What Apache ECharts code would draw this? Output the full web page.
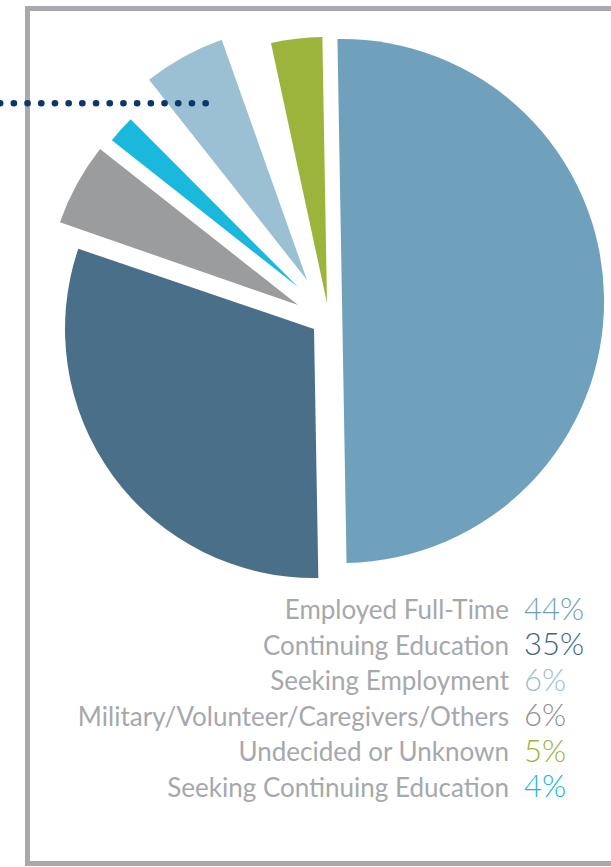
<!DOCTYPE html>
<html>
<head>
<meta charset="utf-8">
<script src="https://cdn.jsdelivr.net/npm/echarts@6/dist/echarts.min.js"></script>
<style>
html,body{margin:0;padding:0;background:#ffffff;}
#chart{width:611px;height:867px;}
</style>
</head>
<body>
<div id="chart"></div>
<script>
// ---- data (legend order) ----
const categories = [
  'Employed Full-Time',
  'Continuing Education',
  'Seeking Employment',
  'Military/Volunteer/Caregivers/Others',
  'Undecided or Unknown',
  'Seeking Continuing Education'
];
const percentLabels = ['44%', '35%', '6%', '6%', '5%', '4%'];
// share of the circle each slice covers in the picture (%)
const sliceShares = [50.0, 30.5, 5.2, 5.3, 3.1, 1.9];

// ---- styles / layout ----
const sliceColors = ['#6fa1bc', '#4a7089', '#9bc0d3', '#9b9c9e', '#9cb43c', '#1ab8dd'];
const labelColors = ['#6fa1bc', '#3f6784', '#9bc0d3', '#8e9093', '#9ab33a', '#1ab5dc'];
const clockwiseOrder = [0, 1, 3, 5, 2, 4];          // drawing order from 12 o'clock
const blankAfter = {1: 0.1, 5: 1.85, 2: 2.05};      // white space after a slice (% of circle)
const sliceGeom = {
  0: {center: [342, 301], radius: 262},
  1: {center: [314, 329], radius: 249},
  3: {center: [298, 305], radius: 252},
  5: {center: [298, 287], radius: 237},
  2: {center: [307, 280], radius: 255},
  4: {center: [327, 303], radius: 266}
};

const chart = echarts.init(document.getElementById('chart'), null, {renderer: 'svg'});

// shared pie data (slices + blank spacers)
const pieItems = [];
clockwiseOrder.forEach(k => {
  pieItems.push({name: categories[k], value: sliceShares[k], idx: k});
  if (blankAfter[k]) pieItems.push({name: 'blank' + k, value: blankAfter[k], idx: -1});
});

const series = clockwiseOrder.map(k => ({
  type: 'pie',
  name: categories[k],
  center: sliceGeom[k].center,
  radius: [0, sliceGeom[k].radius],
  startAngle: 91,
  clockwise: true,
  silent: true,
  animation: false,
  label: {show: false},
  labelLine: {show: false},
  emphasis: {disabled: true},
  itemStyle: {borderWidth: 0},
  data: pieItems.map(d => ({
    name: d.name,
    value: d.value,
    itemStyle: {color: d.idx === k ? sliceColors[k] : 'rgba(0,0,0,0)', borderWidth: 0}
  }))
}));

const FONT = 'Lato, "Open Sans", sans-serif';
const baseY = 619, lineGap = 35.5;
const graphics = [];
// frame
graphics.push({
  type: 'rect', z: 1,
  shape: {x: 27.5, y: 8.5, width: 700, height: 855},
  style: {fill: 'none', stroke: '#a7a9ac', lineWidth: 5}
});
// dotted leader line
graphics.push({
  type: 'line', z: 50,
  shape: {x1: 205.7, y1: 103.3, x2: -6, y2: 103.3},
  style: {stroke: '#0b376d', lineWidth: 6.6, lineCap: 'round', lineDash: [0.1, 13.6]}
});
// legend texts
categories.forEach((name, i) => {
  const by = baseY + i * lineGap;
  graphics.push({
    type: 'text', z: 20,
    x: 509, y: by + 3,
    style: {text: name, fill: '#a6a8ab', font: '400 26px ' + FONT, textAlign: 'right', textVerticalAlign: 'bottom', verticalAlign: 'bottom'}
  });
  graphics.push({
    type: 'text', z: 20,
    x: 524, y: by + 4,
    style: {text: percentLabels[i], fill: labelColors[i], font: '300 31px ' + FONT, textAlign: 'left', textVerticalAlign: 'bottom', verticalAlign: 'bottom'}
  });
});

chart.setOption({
  backgroundColor: '#ffffff',
  animation: false,
  series: series,
  graphic: {elements: graphics}
});
</script>
</body>
</html>
